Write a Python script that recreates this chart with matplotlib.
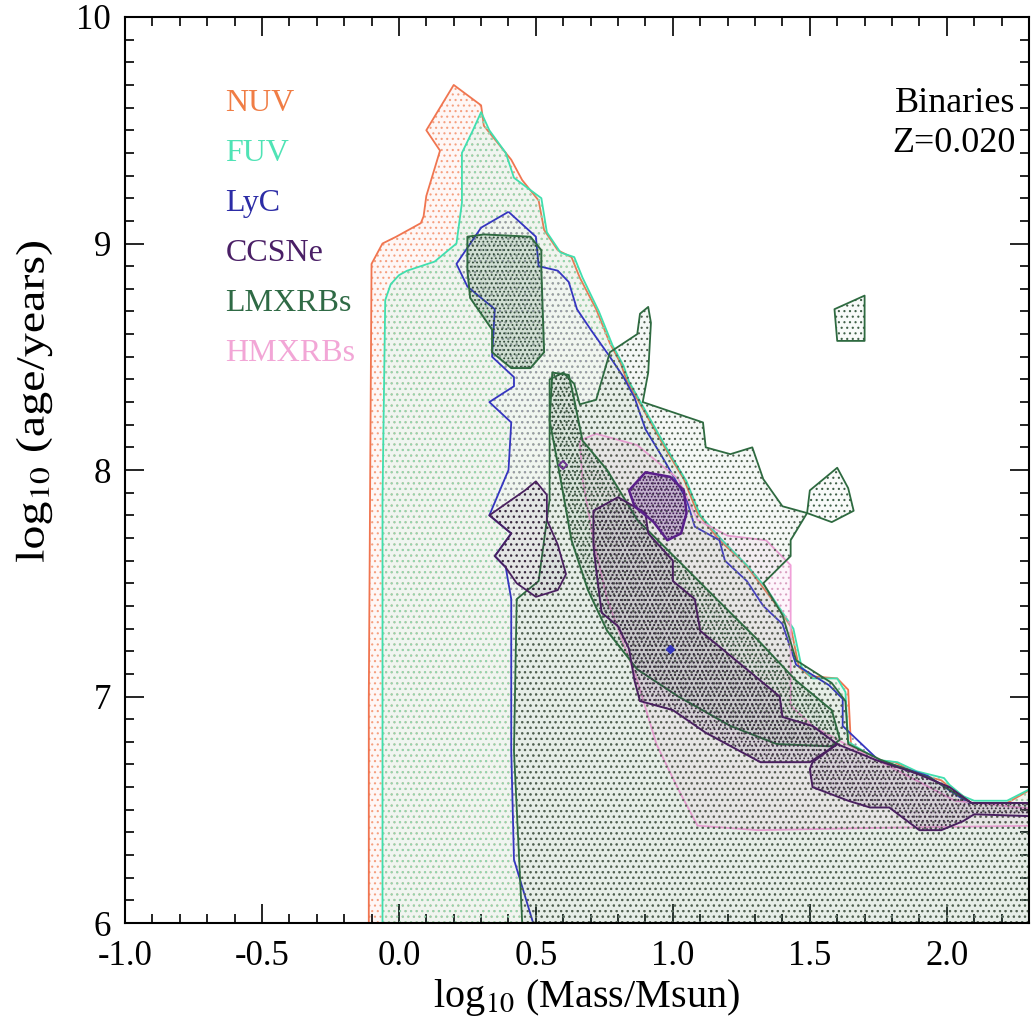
import numpy as np
import matplotlib.pyplot as plt
from matplotlib.patches import Polygon, PathPatch
from matplotlib.textpath import TextPath
from matplotlib.font_manager import FontProperties
from matplotlib.transforms import Affine2D
from matplotlib.ticker import MultipleLocator, FixedLocator, FixedFormatter

plt.rcParams['font.family'] = ['Liberation Serif', 'DejaVu Serif']
plt.rcParams['mathtext.fontset'] = 'stix'
plt.rcParams['axes.unicode_minus'] = False
plt.rcParams['hatch.linewidth'] = 0.8

# Contours in (log10 mass, log10 age)
nuv_x = [-0.11, -0.11, -0.10, -0.06, -0.01, 0.08, 0.09, 0.10, 0.15, 0.10, 0.20, 0.30, 0.31,
         0.37, 0.41, 0.45, 0.51, 0.53, 0.58, 0.63, 0.66, 0.72, 0.77, 0.81, 0.83, 0.90, 0.97,
         1.04, 1.09, 1.17, 1.26, 1.33, 1.38, 1.43, 1.46, 1.50, 1.60, 1.64, 1.65, 1.74, 1.81,
         1.89, 1.98, 2.01, 2.06, 2.09, 2.22, 2.35, 2.35]
nuv_y = [6.0, 6.99, 8.91, 9.00, 9.03, 9.09, 9.12, 9.21, 9.41, 9.50, 9.70, 9.61, 9.52, 9.43,
         9.37, 9.28, 9.19, 9.06, 8.97, 8.94, 8.85, 8.71, 8.56, 8.47, 8.40, 8.25, 8.10, 7.96,
         7.81, 7.69, 7.59, 7.48, 7.40, 7.31, 7.13, 7.09, 7.08, 7.03, 6.79, 6.72, 6.71, 6.66,
         6.63, 6.60, 6.56, 6.53, 6.53, 6.62, 6.0]

fuv_x = [-0.06, -0.06, -0.05, -0.03, 0.00, 0.03, 0.13, 0.21, 0.23, 0.23, 0.27, 0.30, 0.33,
         0.39, 0.42, 0.52, 0.54, 0.59, 0.64, 0.67, 0.73, 0.78, 0.82, 0.84, 0.91, 0.98, 1.05,
         1.10, 1.18, 1.27, 1.34, 1.39, 1.44, 1.47, 1.51, 1.60, 1.63, 1.64, 1.75, 1.82, 1.89,
         1.99, 2.01, 2.06, 2.10, 2.22, 2.35, 2.35]
fuv_y = [6.0, 7.87, 8.75, 8.82, 8.86, 8.88, 8.92, 9.00, 9.18, 9.40, 9.50, 9.58, 9.50, 9.40,
         9.29, 9.20, 9.05, 8.96, 8.94, 8.85, 8.70, 8.55, 8.46, 8.39, 8.24, 8.09, 7.95, 7.80,
         7.69, 7.58, 7.48, 7.39, 7.30, 7.13, 7.08, 7.08, 7.02, 6.80, 6.72, 6.71, 6.67, 6.64,
         6.61, 6.56, 6.54, 6.54, 6.62, 6.0]

lyc_x = [0.40, 0.50, 0.51, 0.58, 0.62, 0.65, 0.70, 0.77, 0.82, 0.86, 0.90, 0.97, 1.05, 1.08,
         1.17, 1.19, 1.27, 1.33, 1.40, 1.45, 1.57, 1.62, 1.62, 1.75, 1.93, 2.08, 2.35, 2.35,
         0.49, 0.42, 0.41, 0.41, 0.39, 0.35, 0.41, 0.33, 0.40, 0.41, 0.33, 0.42, 0.42, 0.34,
         0.35, 0.25, 0.21, 0.30]
lyc_y = [9.14, 9.03, 8.90, 8.88, 8.83, 8.71, 8.62, 8.50, 8.41, 8.32, 8.18, 8.04, 7.87, 7.75,
         7.69, 7.60, 7.51, 7.40, 7.32, 7.14, 7.05, 6.99, 6.87, 6.72, 6.65, 6.53, 6.53, 6.0,
         6.0, 6.28, 6.76, 7.43, 7.57, 7.62, 7.72, 7.80, 8.00, 8.21, 8.30, 8.37, 8.41, 8.50,
         8.71, 8.81, 8.91, 9.07]
lyc_spot = (0.99, 7.21)

hmxb_x = [0.66, 0.72, 0.87, 1.02, 1.09, 1.20, 1.34, 1.43, 1.43, 1.51, 1.63, 1.81, 2.03, 2.35,
          2.35, 1.74, 1.31, 1.09, 1.02, 0.94, 0.87, 0.76, 0.71, 0.67]
hmxb_y = [8.13, 8.16, 8.11, 7.96, 7.78, 7.71, 7.69, 7.58, 6.96, 6.87, 6.79, 6.68, 6.54, 6.50,
          6.43, 6.42, 6.41, 6.43, 6.59, 6.79, 7.07, 7.43, 7.69, 7.96]

lmxb_x = [0.45, 0.42, 0.43, 0.51, 0.55, 0.55, 0.60, 0.64, 0.66, 0.72, 0.77, 0.87, 0.88, 0.91,
          0.92, 0.91, 0.89, 1.11, 1.12, 1.21, 1.29, 1.33, 1.40, 1.49, 1.43, 1.43, 1.33, 1.40,
          1.45, 1.58, 1.63, 1.64, 1.76, 1.94, 2.09, 2.35, 2.35]
lmxb_y = [6.0, 6.76, 7.43, 7.51, 7.87, 8.40, 8.43, 8.38, 8.29, 8.31, 8.52, 8.60, 8.69, 8.72,
          8.65, 8.43, 8.30, 8.21, 8.10, 8.07, 8.10, 7.96, 7.84, 7.81, 7.69, 7.62, 7.50, 7.36,
          7.16, 7.06, 6.98, 6.79, 6.72, 6.64, 6.53, 6.53, 6.0]

lmxb_top_x = [0.25, 0.31, 0.48, 0.52, 0.52, 0.53, 0.48, 0.41, 0.34, 0.34, 0.26, 0.25]
lmxb_top_y = [9.03, 9.04, 9.03, 8.97, 8.88, 8.52, 8.45, 8.45, 8.52, 8.62, 8.76, 8.88]

lmxb_band_x = [0.56, 0.62, 0.64, 0.67, 0.76, 0.87, 1.02, 1.16, 1.31, 1.45, 1.58, 1.61, 1.58,
               1.38, 1.21, 1.02, 0.87, 0.76, 0.69, 0.63, 0.59, 0.55]
lmxb_band_y = [8.43, 8.42, 8.31, 8.13, 8.00, 7.78, 7.60, 7.43, 7.25, 7.07, 6.94, 6.81, 6.78,
               6.79, 6.87, 7.00, 7.12, 7.29, 7.47, 7.69, 7.96, 8.22]

lmxb_blob1_x = [1.49, 1.50, 1.60, 1.64, 1.66, 1.58]
lmxb_blob1_y = [7.81, 7.91, 8.01, 7.92, 7.82, 7.77]
lmxb_blob2_x = [1.59, 1.70, 1.70, 1.60]
lmxb_blob2_y = [8.71, 8.77, 8.57, 8.57]

ccsn_band_x = [0.71, 0.80, 0.90, 0.91, 1.00, 1.00, 1.08, 1.10, 1.26, 1.39, 1.40, 1.51, 1.60,
               1.50, 1.32, 1.12, 1.00, 0.88, 0.86, 0.85, 0.84, 0.80, 0.74, 0.72, 0.71]
ccsn_band_y = [7.82, 7.88, 7.81, 7.72, 7.60, 7.51, 7.43, 7.29, 7.13, 7.00, 6.91, 6.87, 6.79,
               6.71, 6.71, 6.84, 6.94, 6.98, 7.07, 7.14, 7.21, 7.31, 7.37, 7.56, 7.67]

ccsn_tail_x = [1.50, 1.51, 1.64, 1.72, 1.79, 1.90, 1.98, 2.06, 2.10, 2.35, 2.35, 2.09, 2.01,
               1.89, 1.74, 1.60, 1.51]
ccsn_tail_y = [6.68, 6.60, 6.54, 6.51, 6.51, 6.41, 6.41, 6.45, 6.48, 6.47, 6.53, 6.53, 6.60,
               6.66, 6.72, 6.79, 6.71]

ccsn_blob_x = [0.84, 0.90, 0.99, 1.04, 1.05, 1.03, 0.98, 0.93, 0.86]
ccsn_blob_y = [7.91, 7.99, 7.97, 7.91, 7.81, 7.72, 7.69, 7.77, 7.84]

ccsn_left_x = [0.33, 0.46, 0.50, 0.54, 0.54, 0.58, 0.61, 0.58, 0.50, 0.43, 0.39, 0.35, 0.41]
ccsn_left_y = [7.80, 7.91, 7.95, 7.89, 7.78, 7.67, 7.54, 7.47, 7.44, 7.50, 7.57, 7.62, 7.72]
ccsn_spot = (0.60, 8.02)

labels = ['NUV', 'FUV', 'LyC', 'CCSNe', 'LMXRBs', 'HMXRBs']
label_colors = ['#f07d45', '#4fe3b5', '#2c2ca6', '#4a1f66', '#2f6a45', '#f2a6d6']

x_ticks = [-1.0, -0.5, 0.0, 0.5, 1.0, 1.5, 2.0]
x_ticklabels = ['-1.0', '-0.5', '0.0', '0.5', '1.0', '1.5', '2.0']
y_ticks = [6, 7, 8, 9, 10]


def stippled(ax, xs, ys, color, alpha, hatch, lw, z, dot_color=None):
    pts = np.column_stack([xs, ys])
    if alpha > 0:
        ax.add_patch(Polygon(pts, closed=True, facecolor=color, alpha=alpha, lw=0, zorder=z))
    ax.add_patch(Polygon(pts, closed=True, fill=False, hatch=hatch,
                         edgecolor=dot_color or color, lw=0, zorder=z + 0.1))
    ax.add_patch(Polygon(pts, closed=True, fill=False, edgecolor=color, lw=lw,
                         joinstyle='round', zorder=z + 0.2))


fig = plt.figure(figsize=(10.33, 10.24), dpi=100)
ax = fig.add_axes([0.121, 0.0986, 0.8751, 0.8848])

stippled(ax, nuv_x, nuv_y, '#f07550', 0.05, '...', 1.3, 1, '#f5a080')
stippled(ax, fuv_x, fuv_y, '#40dfae', 0.07, '...', 1.3, 2, '#8fd8b0')
stippled(ax, lyc_x, lyc_y, '#3535c0', 0.0, '...', 1.3, 3, '#9a9aa8')
stippled(ax, hmxb_x, hmxb_y, '#f0a0d8', 0.10, '...', 1.3, 4, '#d8a0c0')
stippled(ax, lmxb_x, lmxb_y, '#2e6a40', 0.05, '...', 1.3, 5, '#506050')
stippled(ax, lmxb_top_x, lmxb_top_y, '#2e6a40', 0.16, '....', 1.4, 6, '#304a38')
stippled(ax, lmxb_band_x, lmxb_band_y, '#2e6a40', 0.08, '....', 1.4, 6, '#304a38')
stippled(ax, lmxb_blob1_x, lmxb_blob1_y, '#2e6a40', 0.03, '...', 1.3, 6, '#406048')
stippled(ax, lmxb_blob2_x, lmxb_blob2_y, '#2e6a40', 0.03, '...', 1.3, 6, '#406048')
stippled(ax, ccsn_band_x, ccsn_band_y, '#4a2060', 0.11, '....', 1.4, 7, '#3a2a40')
stippled(ax, ccsn_tail_x, ccsn_tail_y, '#4a2060', 0.11, '....', 1.4, 7, '#3a2a40')
stippled(ax, ccsn_left_x, ccsn_left_y, '#4a2060', 0.07, '...', 1.3, 7, '#3a2a40')
stippled(ax, ccsn_blob_x, ccsn_blob_y, '#5a1f8a', 0.26, '.....', 1.8, 8, '#3a1050')

# single-cell islands
ax.plot(*lyc_spot, marker='D', ms=4, color='#3535c0', zorder=9)
ax.plot(*ccsn_spot, marker='D', ms=4, color='#6a3090', mfc='none', mew=1.3, zorder=9)

ax.set_xlim(-1.0, 2.3)
ax.set_ylim(6, 10)

ax.xaxis.set_major_locator(FixedLocator(x_ticks))
ax.xaxis.set_major_formatter(FixedFormatter(x_ticklabels))
ax.xaxis.set_minor_locator(MultipleLocator(0.1))
ax.yaxis.set_major_locator(FixedLocator(y_ticks))
ax.yaxis.set_minor_locator(MultipleLocator(0.1))
ax.tick_params(which='both', direction='in', top=True, right=True, width=1.2, colors='black')
ax.tick_params(which='major', length=13.5)
ax.tick_params(which='minor', length=6.5)
ax.tick_params(axis='x', labelsize=25, pad=12)
ax.tick_params(axis='y', labelsize=25, pad=10)
for sp in ax.spines.values():
    sp.set_linewidth(1.5)
    sp.set_zorder(20)

fig.text(0.568, 0.026, r'log$_{10}$ (Mass/Msun)', fontsize=29, ha='center', va='center')

# y label drawn as a path so it can be stretched along its length
ylab = TextPath((0, 0), r'log$_{10}$ (age/years)', size=1,
                prop=FontProperties(family='Liberation Serif'))
bb = ylab.get_extents()
ytr = (Affine2D().translate(-(bb.x0 + bb.x1) / 2, -(bb.y0 + bb.y1) / 2)
       .scale(48, 40).rotate_deg(90).translate(34, 1024 - 402))
fig.add_artist(PathPatch(ylab, transform=ytr, facecolor='black', lw=0))

for i, (lab, col) in enumerate(zip(labels, label_colors)):
    ax.text(0.111, 0.905 - i * 0.0553, lab, color=col, fontsize=23, ha='left', va='center',
            transform=ax.transAxes, zorder=30)

ax.text(0.985, 0.904, 'Binaries', fontsize=26, ha='right', va='center', transform=ax.transAxes)
ax.text(0.985, 0.860, 'Z=0.020', fontsize=26, ha='right', va='center', transform=ax.transAxes)

fig.savefig('out.png', dpi=100)
